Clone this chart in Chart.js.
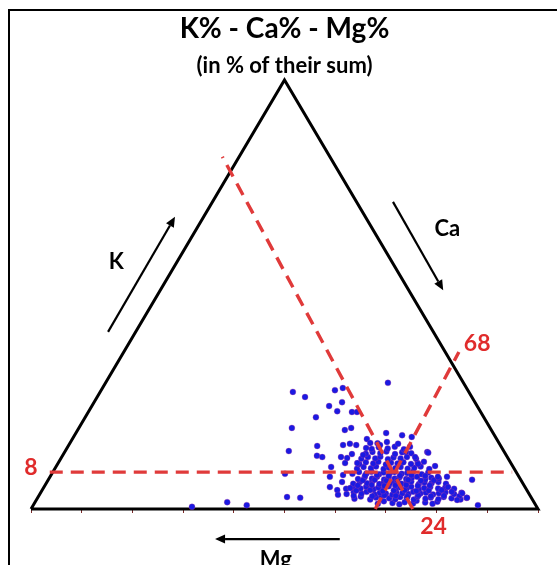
<!DOCTYPE html>
<html><head><meta charset="utf-8">
<script src="https://cdn.jsdelivr.net/npm/chart.js@4/dist/chart.umd.min.js"></script>
<style>
html,body{margin:0;padding:0;background:#fff;overflow:hidden}
#wrap{position:relative;width:557px;height:565px}
#frame{position:absolute;left:8px;top:9px;right:0;bottom:0;border-left:2px solid #000;border-top:2px solid #000;pointer-events:none}
canvas{position:absolute;left:0;top:0}
</style>
</head><body><div id="wrap"><canvas id="c" width="557" height="565"></canvas><div id="frame"></div></div>
<script>
const titleText = 'K% - Ca% - Mg%';
const subtitleText = '(in % of their sum)';
const axisNames = ['K', 'Ca', 'Mg'];
const thresholdLabels = ['8', '24', '68'];
const baseTicks = [0,10,20,30,40,50,60,70,80,90,100];

// Samples: K% and Mg% (Ca% = 100 - K - Mg)
const kPct = [
 1.2,1.8,1.4,1.1,1.6,1.3,1.9,1.5,1.2,1.7,
 2.4,2.9,2.2,2.7,3.0,2.5,2.3,2.8,2.6,2.2,2.9,2.4,2.7,2.3,2.8,2.5,2.2,2.6,
 3.5,3.9,3.6,4.0,3.4,3.8,3.6,3.3,3.9,3.7,3.5,4.0,3.6,3.8,3.4,3.7,3.9,3.5,3.8,
 3.1,3.0,3.2,3.1,2.9,3.2,3.0,3.1,3.0,
 4.7,5.1,4.8,5.2,4.6,5.0,4.9,5.3,4.7,5.0,4.8,5.2,4.6,4.9,5.1,4.8,5.0,4.7,
 4.3,4.4,4.2,4.3,4.4,4.2,4.3,4.4,
 5.9,6.3,6.0,6.4,5.8,6.2,6.0,6.3,5.9,6.1,6.4,5.8,6.2,6.0,6.3,5.9,
 5.5,5.6,5.4,5.5,5.6,5.4,5.5,
 7.0,7.4,7.1,7.5,6.9,7.3,7.1,7.4,7.0,7.2,7.5,6.9,7.3,7.1,
 6.7,6.8,6.6,6.7,6.8,6.6,6.7,
 8.2,8.6,8.3,8.7,8.1,8.5,8.3,8.6,8.2,8.4,8.7,8.1,8.5,
 7.8,7.9,7.7,7.8,7.9,7.7,
 9.4,9.8,9.5,9.9,9.3,9.7,9.5,9.8,9.4,9.6,9.9,9.3,
 10.5,10.9,10.6,11.0,10.4,10.8,10.6,10.9,10.5,10.7,11.0,
 11.7,12.1,11.8,12.2,11.6,12.0,11.8,12.1,11.7,
 12.9,13.3,13.0,13.4,12.8,13.2,13.0,
 14.0,14.4,14.1,14.5,13.9,
 15.3,15.6,15.2,
 29.4,27.3,26.1,27.7,28.2,24.9,24.0,22.8,22.6,22.6,
 21.4,18.9,18.4,18.9,17.7,16.3,17.2,16.8,13.3,13.5,
 14.7,2.8,2.6,6.8,0.9,8.2,14.9,15.2,14.9,14.2,
 15.4,14.9,12.4,12.1,12.1,11.9,12.8,12.6,10.7,10.7,
 9.8,7.5,7.9,6.3,5.1,4.4,3.3,4.9,0.5,1.6,
 0.9,14.5,13.1,10.0,7.5,5.1,4.0,3.7,2.1,2.6,
 7.5,12.1,10.5,13.3
];
const mgPct = [
 31,29.5,28,26.8,25.5,24,23,21.5,20.2,19,
 35,33.5,32,30.6,29.4,28.1,27,25.8,24.6,23.4,22.3,21,19.8,18.5,17.2,15.8,14.2,12.8,
 36,34.4,33,31.8,30.5,29.3,28.2,27.1,26,24.9,23.8,22.6,21.4,20.2,19,17.7,16.3,14.8,13.2,
 34.8,31.2,28.7,26.5,24.3,22,19.6,17,14,
 35.5,34,32.6,31.3,30.1,29,27.9,26.8,25.7,24.6,23.5,22.4,21.2,20,18.7,17.3,15.8,14.2,
 33.7,30.9,28.5,26.3,24.1,21.9,19.4,16.8,
 33.5,32,30.7,29.5,28.4,27.3,26.2,25.1,24,22.9,21.8,20.6,19.3,18,16.5,15.2,
 32.8,30,27.6,25.4,23.2,21,18.6,
 32,30.5,29.2,28,26.9,25.8,24.7,23.6,22.5,21.3,20.1,18.8,17.4,16,
 31.2,28.8,26.6,24.4,22.2,19.8,17.2,
 32.5,31,29.7,28.5,27.3,26.2,25.1,24,22.8,21.6,20.3,18.9,17.4,
 30.2,27.8,25.6,23.3,21,18.4,
 31,29.5,28.2,27,25.8,24.6,23.4,22.2,21,19.6,18.2,16.8,
 30,28.5,27.2,26,24.8,23.6,22.4,21.1,19.8,18.4,17,
 29,27.5,26.2,25,23.8,22.5,21.2,19.8,18.2,
 27.5,26,24.6,23.2,21.8,20.2,18.5,
 25.8,24.2,22.6,21,19.5,
 24,22,20,
 14.9,34.7,32.9,26.2,24.4,26.2,29.2,28.2,25.4,24.4,
 33.1,39.1,28.9,27.4,21.1,25.6,18.2,16.5,15.2,42.4,
 36.2,48.1,45.6,9.6,11.4,45.8,31.0,29.5,28.4,26.8,
 25.4,23.7,37.4,36.5,32.8,31.7,30.3,28.2,32.7,30.3,
 35.9,37.3,34.5,35.5,38.5,37.4,37.8,34.6,68.0,60.5,
 57.0,18.0,15.1,15.3,16.0,15.2,15.0,13.1,14.9,12.7,
 14.2,18.2,18.4,19.4
];

// Reference dashed lines, endpoints as [K%, Mg%]
const lineK8  = [[8.6, 92.0], [8.6, 0.8]];
const lineMg24 = [[0, 24.7], [82.1, 21.2]];
const lineCa68 = [[0, 32.1], [36.6, -2.7]];

// Ternary -> plane (x: along base 0..100, y: K%)
const toXY = (k, mg) => ({ x: (100 - k - mg) + k / 2, y: k });
const samples = kPct.map((k, i) => toXY(k, mgPct[i]));
const triangle = [toXY(0, 100), toXY(0, 0), toXY(100, 0), toXY(0, 100)];
const seg = (l) => l.map(p => toXY(p[0], p[1]));

// Decorations in plane coordinates
const arrows = [
  { from: [15.2, 41.3], to: [28.4, 68.1] },
  { from: [71.4, 71.6], to: [81.3, 51.0] },
  { from: [60.9, -7.0], to: [36.3, -7.0] }
];
const nameSpots = [[16.8, 57.6], [82.1, 65.3], [48.3, -11.8]];
const thresholdSpots = [[0.0, 9.6], [79.4, -4.0], [88.0, 38.6]];

const FONT = 'Lato, "Open Sans", sans-serif';

const annot = {
  id: 'annot',
  afterDatasetsDraw(chart) {
    const { ctx, scales: { x, y } } = chart;
    const P = (p) => [x.getPixelForValue(p[0]), y.getPixelForValue(p[1])];
    ctx.save();
    ctx.strokeStyle = '#000'; ctx.fillStyle = '#000'; ctx.lineWidth = 2.2;
    arrows.forEach(a => {
      const [x1, y1] = P(a.from), [x2, y2] = P(a.to);
      const ang = Math.atan2(y2 - y1, x2 - x1);
      const hl = 10, hw = 4.5;
      const bx = x2 - hl * Math.cos(ang), by = y2 - hl * Math.sin(ang);
      ctx.beginPath(); ctx.moveTo(x1, y1); ctx.lineTo(bx, by); ctx.stroke();
      ctx.beginPath();
      ctx.moveTo(x2, y2);
      ctx.lineTo(bx + hw * Math.sin(ang), by - hw * Math.cos(ang));
      ctx.lineTo(bx - hw * Math.sin(ang), by + hw * Math.cos(ang));
      ctx.closePath(); ctx.fill();
    });
    ctx.textAlign = 'center'; ctx.textBaseline = 'middle';
    ctx.font = 'bold 22px ' + FONT; ctx.fillStyle = '#000';
    axisNames.forEach((t, i) => { const [px, py] = P(nameSpots[i]); ctx.fillText(t, px, py); });
    ctx.font = 'bold 23px ' + FONT; ctx.fillStyle = '#e02b2b';
    thresholdLabels.forEach((t, i) => { const [px, py] = P(thresholdSpots[i]); ctx.fillText(t, px, py); });
    ctx.restore();
  }
};

const dashed = (data) => ({
  data, showLine: true, borderColor: '#e03a3a', borderWidth: 3.4, borderDash: [13, 8],
  pointRadius: 0, fill: false, clip: false, order: 1
});

new Chart(document.getElementById('c'), {
  type: 'scatter',
  data: {
    datasets: [
      { data: triangle, showLine: true, borderColor: '#000', borderWidth: 3, pointRadius: 0, clip: false, order: 3 },
      { data: samples, backgroundColor: '#1a1ae2', borderColor: 'rgba(190,60,150,0.5)', borderWidth: 0.6, pointRadius: 3, pointStyle: 'circle', clip: false, order: 2 },
      dashed(seg(lineK8)),
      dashed(seg(lineMg24)),
      dashed(seg(lineCa68))
    ]
  },
  options: {
    responsive: false, animation: false, devicePixelRatio: 1,
    layout: { padding: { top: 0, left: 31, right: 19, bottom: 52 } },
    plugins: {
      legend: { display: false }, tooltip: { enabled: false },
      title: { display: true, text: titleText, color: '#000', font: { family: FONT, size: 28, weight: 'bold' }, padding: { top: 12, bottom: 6 } },
      subtitle: { display: true, text: subtitleText, color: '#000', font: { family: FONT, size: 22, weight: 'bold' }, padding: { top: 1, bottom: 1 } }
    },
    scales: {
      x: {
        type: 'linear', min: 0, max: 100,
        afterBuildTicks: (s) => { s.ticks = baseTicks.map(v => ({ value: v })); },
        ticks: { display: false },
        border: { display: false },
        grid: { drawOnChartArea: false, drawTicks: true, tickLength: 4, color: '#7a2a2a', lineWidth: 1 }
      },
      y: { type: 'linear', min: 0, max: 100, display: false }
    }
  },
  plugins: [annot]
});
</script>
</body></html>
